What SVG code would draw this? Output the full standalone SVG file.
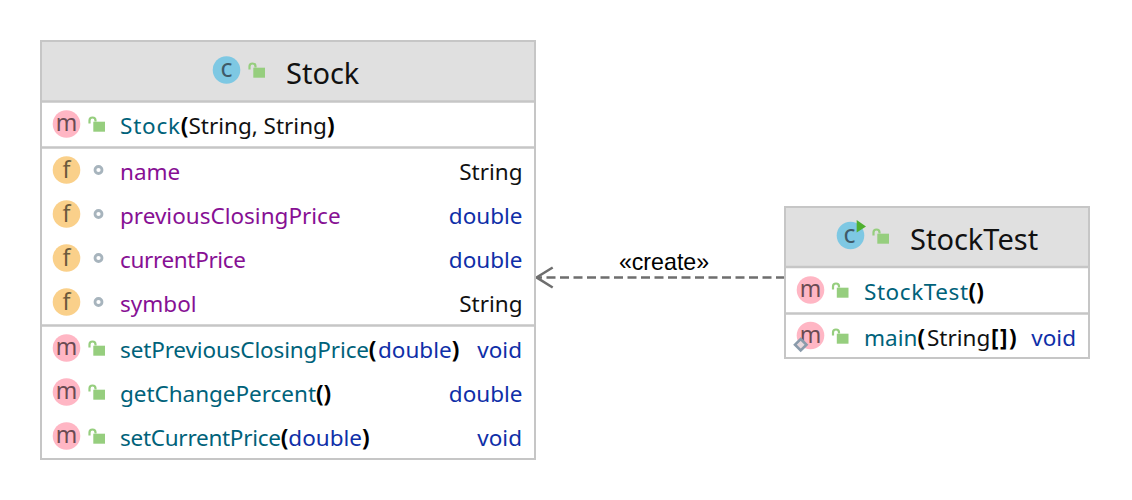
<svg xmlns="http://www.w3.org/2000/svg" width="1132" height="500" viewBox="0 0 1132 500">
<style>
text{font-family:"Noto Sans","Open Sans","Liberation Sans",sans-serif;font-size:22.5px}
.box{fill:#fff;stroke:#c6c6c6;stroke-width:2}
.head{fill:#e0e0e0}
.sep{stroke:#c6c6c6;stroke-width:2.4;fill:none}
.title{font-size:29px;fill:#111}
.method{fill:#00627a}
.field{fill:#871094}
.plain{fill:#111}
.kw{fill:#0f2fa8}
.bold{font-weight:700;fill:#000}
.ic{font-size:23px;text-anchor:middle}
.icm{fill:#6a4a52}.icf{fill:#6b5a3c}.icc{fill:#3f5a68;font-size:25px}
.cm{fill:#ffb6c4}.cf{fill:#fad08a}.cc{fill:#7ec8e3}
.lock{fill:#96ce7e}
.shackle{fill:none;stroke:#96ce7e;stroke-width:2.2}
.dot{fill:none;stroke:#a7b4bd;stroke-width:2.8}
.end{text-anchor:end}
</style>
<defs>
<g id="lk"><path class="shackle" d="M-7.500-1.500v-3a3 3 0 0 1 6 0v1"/><rect class="lock" x="-3.700" y="-3.300" width="11.700" height="10"/></g>
<g id="mi"><circle class="cm" r="13.800"/><text class="ic icm" y="7">m</text></g>
<g id="fi"><circle class="cf" r="13.800"/><text class="ic icf" y="8">f</text></g>
</defs>

<g id="connectors">
<path d="M785 277.400H537" fill="none" stroke="#6e6e6e" stroke-width="2.500" stroke-dasharray="9 4.500"/>
<path d="M552.700 267.500L536.500 277.400L552.700 287.500" fill="none" stroke="#6e6e6e" stroke-width="2.500"/>
<text x="664" y="270" text-anchor="middle" style="font-family:'Liberation Sans',sans-serif;font-size:23.200px" fill="#000">«create»</text>
</g>

<g id="node-stock">
<rect class="box" x="41" y="41" width="494" height="418"/>
<rect class="head" x="42" y="42" width="492" height="59"/>
<path class="sep" d="M42 101.500H534M42 147.500H534M42 325.500H534"/>
<circle class="cc" cx="226.500" cy="70" r="13.800"/><text class="ic icc" x="226.500" y="77">c</text>
<use href="#lk" x="257" y="71"/>
<text class="title" x="286" y="84">Stock</text>

<use href="#mi" x="66.500" y="124"/><use href="#lk" x="97" y="125"/>
<text x="120" y="134"><tspan class="method" textLength="60">Stock</tspan><tspan class="bold">(</tspan><tspan class="plain">String, String</tspan><tspan class="bold">)</tspan></text>

<use href="#fi" x="66.500" y="170"/><circle class="dot" cx="98.500" cy="170" r="3.500"/>
<text class="field" x="120" y="180">name</text><text class="plain end" x="522.500" y="180">String</text>
<use href="#fi" x="66.500" y="214"/><circle class="dot" cx="98.500" cy="214" r="3.500"/>
<text class="field" x="120" y="224">previousClosingPrice</text><text class="kw end" x="522.500" y="224">double</text>
<use href="#fi" x="66.500" y="258"/><circle class="dot" cx="98.500" cy="258" r="3.500"/>
<text class="field" x="120" y="268" textLength="126">currentPrice</text><text class="kw end" x="522.500" y="268">double</text>
<use href="#fi" x="66.500" y="302"/><circle class="dot" cx="98.500" cy="302" r="3.500"/>
<text class="field" x="120" y="312">symbol</text><text class="plain end" x="522.500" y="312">String</text>

<use href="#mi" x="66.500" y="348"/><use href="#lk" x="97" y="349"/>
<text x="120" y="358"><tspan class="method" textLength="249">setPreviousClosingPrice</tspan><tspan class="bold">(</tspan><tspan class="kw" x="378">double</tspan><tspan class="bold">)</tspan></text><text class="kw end" x="522" y="358">void</text>
<use href="#mi" x="66.500" y="392"/><use href="#lk" x="97" y="393"/>
<text x="120" y="402"><tspan class="method" textLength="196">getChangePercent</tspan><tspan class="bold">()</tspan></text><text class="kw end" x="522.500" y="402">double</text>
<use href="#mi" x="66.500" y="436"/><use href="#lk" x="97" y="437"/>
<text x="120" y="446"><tspan class="method" textLength="161">setCurrentPrice</tspan><tspan class="bold">(</tspan><tspan class="kw">double</tspan><tspan class="bold">)</tspan></text><text class="kw end" x="522" y="446">void</text>
</g>

<g id="node-stocktest">
<rect class="box" x="785" y="207" width="304" height="151"/>
<rect class="head" x="786" y="208" width="302" height="59"/>
<path class="sep" d="M786 267H1088M786 313.500H1088"/>
<circle class="cc" cx="850.500" cy="235.500" r="13.800"/><text class="ic icc" x="849.500" y="243">c</text>
<path d="M856.700 220L866 226.500L856.700 232.500Z" fill="#4fb02f"/>
<use href="#lk" x="881" y="237"/>
<text class="title" x="910" y="250">StockTest</text>

<use href="#mi" x="810.500" y="290"/><use href="#lk" x="840.500" y="291"/>
<text x="864" y="300"><tspan class="method" textLength="104">StockTest</tspan><tspan class="bold">()</tspan></text>
<use href="#mi" x="810.500" y="335.500"/><use href="#lk" x="840.500" y="337"/>
<path d="M800.700 339L806.500 344.700L800.700 350.500L795 344.700Z" fill="#e8d8dc" stroke="#8a9bab" stroke-width="2.600"/>
<text x="864" y="346"><tspan class="method">main</tspan><tspan class="bold">(</tspan><tspan class="plain" x="927">String</tspan><tspan class="bold" x="991" letter-spacing="1.500">[])</tspan></text><text class="kw end" x="1076" y="346">void</text>
</g>
</svg>
